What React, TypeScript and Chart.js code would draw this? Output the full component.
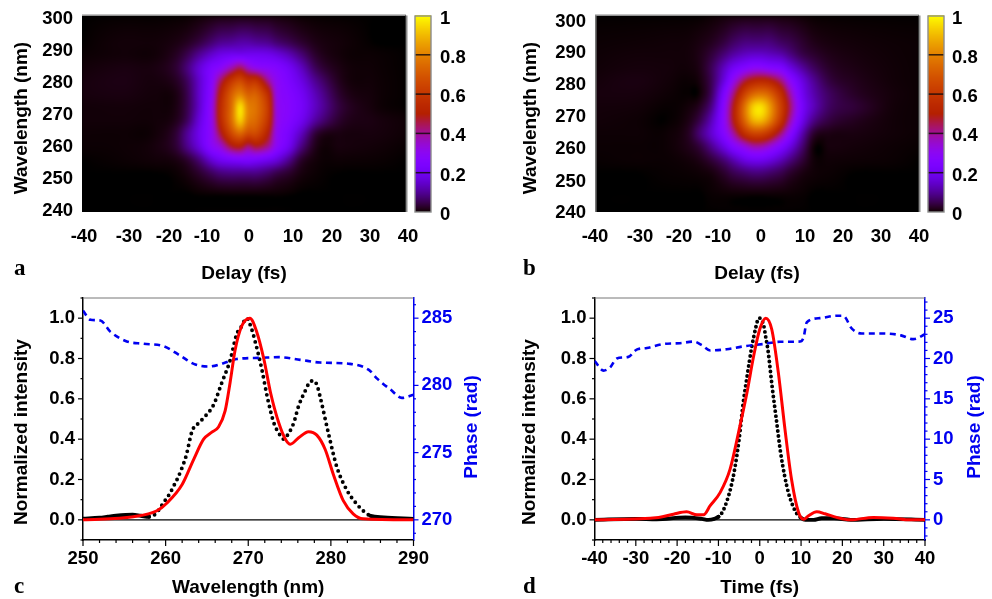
import React, { useEffect, useRef } from "react";
import { Chart, registerables } from "chart.js";

Chart.register(...registerables);

// ---------- heat-map data (panels a, b) ----------
const heatDelayNodes = [-40, -30, -22, -17, -14, -11, -8, -6, -3, -1, 1, 3, 6, 8, 11, 14, 18, 24, 32, 40];
const heatWavelengthNodes = [300, 292, 288, 284, 280, 276, 272, 268, 264, 260, 256, 252, 246, 240];
const measuredTrace = [
  [0, 0, 0, 0, 0, 0.002, 0.004, 0.005, 0.005, 0.005, 0.005, 0.005, 0.005, 0.004, 0.002, 0, 0, 0, 0, 0],
  [0, 0.005, 0.005, 0.01, 0.02, 0.04, 0.07, 0.09, 0.1, 0.11, 0.11, 0.1, 0.09, 0.07, 0.05, 0.03, 0.012, 0.005, 0, 0],
  [0.002, 0.005, 0.005, 0.02, 0.05, 0.1, 0.15, 0.18, 0.2, 0.2, 0.2, 0.2, 0.19, 0.17, 0.13, 0.08, 0.025, 0.005, 0.002, 0],
  [0.005, 0.01, 0.01, 0.03, 0.08, 0.16, 0.24, 0.28, 0.38, 0.44, 0.36, 0.31, 0.28, 0.26, 0.21, 0.14, 0.05, 0.01, 0.003, 0],
  [0.008, 0.012, 0.008, 0.02, 0.06, 0.15, 0.27, 0.42, 0.6, 0.66, 0.58, 0.58, 0.4, 0.3, 0.24, 0.18, 0.09, 0.015, 0.004, 0],
  [0.008, 0.01, 0.006, 0.01, 0.05, 0.15, 0.29, 0.5, 0.72, 0.8, 0.72, 0.72, 0.55, 0.32, 0.26, 0.21, 0.12, 0.025, 0.005, 0],
  [0.005, 0.006, 0.005, 0.01, 0.05, 0.15, 0.31, 0.53, 0.76, 0.96, 0.8, 0.76, 0.6, 0.33, 0.27, 0.22, 0.13, 0.035, 0.006, 0],
  [0.005, 0.005, 0.005, 0.015, 0.06, 0.17, 0.31, 0.52, 0.76, 0.93, 0.78, 0.74, 0.58, 0.33, 0.26, 0.2, 0.1, 0.025, 0.01, 0.003],
  [0.003, 0.003, 0.005, 0.03, 0.1, 0.19, 0.3, 0.45, 0.66, 0.74, 0.66, 0.66, 0.5, 0.31, 0.23, 0.14, 0.03, 0.01, 0.008, 0.003],
  [0.002, 0.003, 0.008, 0.03, 0.09, 0.17, 0.28, 0.33, 0.47, 0.5, 0.42, 0.47, 0.4, 0.29, 0.2, 0.09, 0.012, 0.008, 0.005, 0.001],
  [0, 0.002, 0.005, 0.01, 0.03, 0.08, 0.16, 0.2, 0.23, 0.24, 0.24, 0.23, 0.2, 0.17, 0.1, 0.03, 0.005, 0.003, 0.002, 0],
  [0, 0, 0, 0.002, 0.01, 0.03, 0.06, 0.08, 0.09, 0.09, 0.09, 0.09, 0.07, 0.05, 0.03, 0.01, 0.002, 0, 0, 0],
  [0, 0, 0, 0, 0, 0.002, 0.004, 0.005, 0.006, 0.006, 0.006, 0.006, 0.005, 0.004, 0.002, 0, 0, 0, 0, 0],
  [0, 0, 0, 0, 0, 0, 0, 0, 0, 0, 0, 0, 0, 0, 0, 0, 0, 0, 0, 0],
];
const retrievedTrace = [
  [0, 0, 0, 0, 0, 0.002, 0.004, 0.005, 0.005, 0.005, 0.005, 0.005, 0.005, 0.004, 0.002, 0, 0, 0, 0, 0],
  [0.002, 0.003, 0.004, 0.005, 0.01, 0.02, 0.04, 0.06, 0.08, 0.08, 0.08, 0.08, 0.06, 0.05, 0.03, 0.015, 0.008, 0.005, 0.003, 0.002],
  [0.003, 0.005, 0.005, 0.006, 0.015, 0.04, 0.08, 0.11, 0.14, 0.15, 0.15, 0.14, 0.12, 0.09, 0.05, 0.03, 0.015, 0.008, 0.004, 0.002],
  [0.004, 0.007, 0.006, 0.005, 0.015, 0.06, 0.14, 0.2, 0.26, 0.29, 0.29, 0.27, 0.24, 0.18, 0.11, 0.06, 0.025, 0.012, 0.005, 0.002],
  [0.006, 0.01, 0.005, 0.002, 0.01, 0.06, 0.18, 0.3, 0.46, 0.52, 0.54, 0.52, 0.42, 0.3, 0.18, 0.1, 0.04, 0.018, 0.006, 0.002],
  [0.008, 0.008, 0.003, 0.001, 0.006, 0.07, 0.25, 0.4, 0.64, 0.74, 0.77, 0.73, 0.56, 0.4, 0.21, 0.12, 0.06, 0.025, 0.008, 0.002],
  [0.006, 0.005, 0.001, 0.006, 0.025, 0.1, 0.29, 0.47, 0.77, 0.93, 0.96, 0.86, 0.62, 0.45, 0.23, 0.13, 0.06, 0.035, 0.008, 0.002],
  [0.005, 0.003, 0.0005, 0.012, 0.05, 0.14, 0.3, 0.47, 0.74, 0.88, 0.9, 0.81, 0.58, 0.4, 0.2, 0.09, 0.04, 0.02, 0.006, 0.002],
  [0.003, 0.003, 0.003, 0.02, 0.08, 0.16, 0.27, 0.38, 0.57, 0.64, 0.64, 0.58, 0.42, 0.29, 0.13, 0.03, 0.012, 0.01, 0.005, 0.002],
  [0.002, 0.002, 0.003, 0.015, 0.04, 0.1, 0.18, 0.25, 0.33, 0.38, 0.38, 0.34, 0.25, 0.18, 0.08, 0.005, 0.008, 0.006, 0.003, 0.001],
  [0.001, 0.002, 0.002, 0.006, 0.015, 0.04, 0.08, 0.12, 0.18, 0.2, 0.2, 0.18, 0.13, 0.09, 0.04, 0.005, 0.004, 0.003, 0.002, 0],
  [0, 0, 0.001, 0.002, 0.004, 0.01, 0.03, 0.05, 0.07, 0.08, 0.08, 0.07, 0.05, 0.03, 0.012, 0.004, 0.002, 0, 0, 0],
  [0, 0, 0, 0, 0, 0.002, 0.004, 0.005, 0.006, 0.006, 0.006, 0.006, 0.005, 0.004, 0.002, 0, 0, 0, 0, 0],
  [0, 0, 0, 0, 0, 0, 0, 0, 0, 0, 0, 0, 0, 0, 0, 0, 0, 0, 0, 0],
];

// ---------- panel c ----------
const specMeasuredX = [250, 252, 253, 254, 256, 257, 258, 258.8, 259.5, 260, 260.5, 261, 261.5, 262, 262.5, 263.2, 264, 264.8, 265.8, 266.8, 267.8, 268.6, 269.2, 269.8, 270.3, 270.8, 271.65, 272.3, 273.1, 273.7, 274.3, 274.9, 275.5, 276.1, 276.9, 277.4, 277.9, 278.3, 278.7, 279.7, 280.7, 281.9, 283.3, 284.2, 284.8, 286.4, 290];
const specMeasuredY = [0.005, 0.01, 0.015, 0.02, 0.025, 0.02, 0.015, 0.03, 0.07, 0.1, 0.13, 0.17, 0.21, 0.26, 0.32, 0.44, 0.48, 0.514, 0.57, 0.68, 0.79, 0.92, 0.96, 1.0, 0.96, 0.89, 0.745, 0.61, 0.48, 0.43, 0.4, 0.43, 0.48, 0.565, 0.64, 0.68, 0.69, 0.67, 0.61, 0.43, 0.265, 0.15, 0.07, 0.035, 0.02, 0.012, 0.005];
const specRetrievedX = [250, 256.1, 258.95, 260.2, 262, 263.4, 264.6, 265.6, 266.4, 267.2, 267.8, 268.4, 269.2, 270.2, 271, 271.9, 272.7, 273.7, 274.5, 275.1, 276.1, 277.3, 278.3, 279.3, 280.3, 281.5, 282.7, 283.9, 290];
const specRetrievedY = [0, 0.015, 0.045, 0.085, 0.175, 0.3, 0.4, 0.435, 0.46, 0.54, 0.68, 0.84, 0.96, 1.0, 0.935, 0.795, 0.63, 0.48, 0.4, 0.375, 0.407, 0.437, 0.42, 0.35, 0.225, 0.095, 0.03, 0.005, 0];
const specPhaseX = [250, 250.9, 252.1, 253.3, 255.3, 257.3, 259.8, 261.8, 263.4, 265.2, 267, 268.6, 271.5, 273.7, 276.3, 278.7, 282.3, 284.6, 285.6, 287.2, 288.6, 290];
const specPhaseY = [285.57, 284.88, 284.83, 284.0, 283.27, 283.1, 282.9, 282.2, 281.6, 281.4, 281.65, 281.96, 282.05, 282.1, 281.9, 281.7, 281.6, 281.15, 280.5, 279.7, 279.07, 279.3];

// ---------- panel d ----------
const timeMeasuredX = [-40, -30, -25, -18, -14, -12.5, -11, -10, -9, -8, -7, -6, -5, -4, -3, -2, -1, -0.5, 0, 0.5, 1, 1.5, 2, 3, 4, 5, 6, 7, 8, 9, 10, 11, 13, 15, 18, 22, 30, 40];
const timeMeasuredY = [0, 0.005, 0.003, 0.012, 0.005, 0, 0.005, 0.015, 0.04, 0.09, 0.16, 0.26, 0.4, 0.58, 0.72, 0.85, 0.95, 0.99, 1.0, 0.99, 0.96, 0.9, 0.84, 0.66, 0.5, 0.34, 0.22, 0.13, 0.07, 0.03, 0.01, 0, 0, 0.008, 0.008, 0, 0.005, 0];
const timeRetrievedX = [-40, -24.5, -20.9, -17.7, -15.2, -13.6, -12, -9.6, -7.2, -4.8, -3.1, -1.5, 0, 1.45, 2.9, 4.5, 6.1, 7.7, 9.4, 10.6, 11.8, 13.8, 15.8, 18.6, 21.9, 27.5, 32.3, 36.4, 40];
const timeRetrievedY = [0, 0.012, 0.028, 0.04, 0.025, 0.025, 0.07, 0.135, 0.25, 0.465, 0.63, 0.81, 0.945, 1.0, 0.945, 0.73, 0.45, 0.2, 0.036, 0.003, 0.02, 0.04, 0.03, 0.012, 0, 0.012, 0.008, 0, 0];
const timePhaseX = [-40, -37.8, -36.2, -34.6, -31.8, -29.8, -27.3, -23.3, -19.3, -16, -14, -12, -8, -4, 0.9, 4.9, 9.8, 10.6, 11.4, 14.6, 18.6, 20.2, 22.3, 24.7, 29.9, 34, 37.2, 40];
const timePhaseY = [19.7, 18.5, 18.9, 20, 20.2, 21.1, 21.3, 21.8, 21.9, 22.1, 21.65, 21, 21.15, 21.5, 21.8, 22.07, 22.1, 22.6, 24.5, 25, 25.3, 25.3, 23.7, 23.1, 23.1, 22.9, 22.4, 23];

// ---------- ticks ----------
const delayLabels = ["-40", "-30", "-20", "-10", "0", "10", "20", "30", "40"];
const heatWavelengthLabels = ["300", "290", "280", "270", "260", "250", "240"];
const colorbarTicks = [0, 0.2, 0.4, 0.6, 0.8, 1];
const intensityMajor = [0, 0.2, 0.4, 0.6, 0.8, 1.0];
const intensityMinor = [-0.1, 0.1, 0.3, 0.5, 0.7, 0.9, 1.1];
const wavelengthMajor = [250, 260, 270, 280, 290];
const wavelengthMinor = [252, 254, 256, 258, 262, 264, 266, 268, 272, 274, 276, 278, 282, 284, 286, 288];
const timeMajor = [-40, -30, -20, -10, 0, 10, 20, 30, 40];
const timeMinor = [-38, -36, -34, -32, -28, -26, -24, -22, -18, -16, -14, -12, -8, -6, -4, -2, 2, 4, 6, 8, 12, 14, 16, 18, 22, 24, 26, 28, 32, 34, 36, 38];
const specPhaseMajor = [270, 275, 280, 285];
const specPhaseMinor = [269, 271, 272, 273, 274, 276, 277, 278, 279, 281, 282, 283, 284, 286];
const timePhaseMajor = [0, 5, 10, 15, 20, 25];
const timePhaseMinor = [-2, -1, 1, 2, 3, 4, 6, 7, 8, 9, 11, 12, 13, 14, 16, 17, 18, 19, 21, 22, 23, 24, 26, 27];

const FONT = '"Liberation Sans", Arial, sans-serif';
const tickFont = { family: FONT, size: 18.5, weight: "bold" as const };
const BLUE = "#0000f0";

const pts = (xs: number[], ys: number[]) => xs.map((x, i) => ({ x, y: ys[i] }));

function hermite(xs: number[], ys: number[], x: number) {
  const n = xs.length;
  let i = 0;
  while (i < n - 2 && x > xs[i + 1]) i++;
  const h = xs[i + 1] - xs[i];
  const d = (ys[i + 1] - ys[i]) / h;
  const m0 = i > 0 ? (ys[i + 1] - ys[i - 1]) / (xs[i + 1] - xs[i - 1]) : d;
  const m1 = i < n - 2 ? (ys[i + 2] - ys[i]) / (xs[i + 2] - xs[i]) : d;
  const t = Math.min(1, Math.max(0, (x - xs[i]) / h));
  const t2 = t * t, t3 = t2 * t;
  return (2 * t3 - 3 * t2 + 1) * ys[i] + (t3 - 2 * t2 + t) * h * m0 + (-2 * t3 + 3 * t2) * ys[i + 1] + (t3 - t2) * h * m1;
}

// gnuplot pm3d default palette
function palette(v: number): [number, number, number] {
  const x = Math.min(1, Math.max(0, v));
  const b = Math.max(0, Math.sin(2 * Math.PI * x));
  return [255 * Math.sqrt(x), 255 * x * x * x, 255 * b];
}

const heatPlugin = {
  id: "heat",
  beforeDatasetsDraw(chart: any) {
    const cfg = chart.options.plugins.heat;
    if (!cfg || !cfg.values) return;
    const { left, right, top, bottom } = chart.chartArea;
    const w = Math.round(right - left), h = Math.round(bottom - top);
    const off = document.createElement("canvas");
    off.width = w; off.height = h;
    const octx = off.getContext("2d")!;
    const img = octx.createImageData(w, h);
    const yNodes = [...heatWavelengthNodes].reverse();
    const rows = [...cfg.values].reverse();
    const xScale = chart.scales.x, yScale = chart.scales.y;
    for (let py = 0; py < h; py++) {
      const wl = yScale.getValueForPixel(top + py + 0.5);
      const col = heatDelayNodes.map((_: number, j: number) => hermite(yNodes, rows.map((r: number[]) => r[j]), wl));
      for (let px = 0; px < w; px++) {
        const dl = xScale.getValueForPixel(left + px + 0.5);
        const [r, g, b] = palette(hermite(heatDelayNodes, col, dl));
        const o = (py * w + px) * 4;
        img.data[o] = r; img.data[o + 1] = g; img.data[o + 2] = b; img.data[o + 3] = 255;
      }
    }
    octx.putImageData(img, 0, 0);
    const ctx = chart.ctx;
    ctx.save();
    ctx.beginPath();
    ctx.rect(left, top, right - left, bottom - top);
    ctx.clip();
    ctx.fillStyle = "#000";
    ctx.fillRect(left, top, right - left, bottom - top);
    ctx.filter = "blur(1.4px)";
    ctx.drawImage(off, left, top);
    ctx.filter = "none";
    ctx.restore();
    // grey frame remnants of the plot
    ctx.fillStyle = "#8a8a8a";
    ctx.fillRect(left, top - 1, right - left, 1);
    ctx.fillRect(right - 1, top, 2.5, bottom - top);
    ctx.fillStyle = "#333";
    ctx.fillRect(right - 1, top, 1, bottom - top);
    if (cfg.leftEdge) {
      ctx.fillStyle = "#777";
      ctx.fillRect(left, top, 1.6, bottom - top);
    }
    // colour bar
    const cb = chart.scales.cb;
    const bx = right + cfg.barGap, bw = cfg.barWidth;
    for (let py = Math.floor(cb.top); py < cb.bottom; py++) {
      const [r, g, b] = palette(cb.getValueForPixel(py + 0.5));
      ctx.fillStyle = `rgb(${r | 0},${g | 0},${b | 0})`;
      ctx.fillRect(bx, py, bw, 1);
    }
    ctx.fillStyle = "rgba(20,10,10,0.85)";
    colorbarTicks.slice(1, 5).forEach((v) => ctx.fillRect(bx, cb.getPixelForValue(v) - 0.75, bw, 1.5));
    ctx.strokeStyle = "#8c8c8c";
    ctx.lineWidth = 1.4;
    ctx.strokeRect(bx, cb.top + 0.5, bw, cb.bottom - cb.top - 0.5);
  },
};

const marksPlugin = {
  id: "marks",
  afterDraw(chart: any) {
    const ctx = chart.ctx;
    const cfg = chart.options.plugins.marks || {};
    ctx.save();
    (cfg.ticks || []).forEach((t: any) => {
      const s = chart.scales[t.scale];
      ctx.strokeStyle = t.color;
      ctx.lineWidth = 1.2;
      const draw = (vals: number[], len: number) =>
        vals.forEach((v) => {
          const p = s.getPixelForValue(v);
          ctx.beginPath();
          if (t.side === "bottom") { ctx.moveTo(p, chart.chartArea.bottom); ctx.lineTo(p, chart.chartArea.bottom + len); }
          if (t.side === "left") { ctx.moveTo(chart.chartArea.left, p); ctx.lineTo(chart.chartArea.left - len, p); }
          if (t.side === "right") { ctx.moveTo(chart.chartArea.right, p); ctx.lineTo(chart.chartArea.right + len, p); }
          ctx.stroke();
        });
      draw(t.major, t.majorLen);
      draw(t.minor, t.minorLen);
    });
    if (cfg.topLine) {
      ctx.strokeStyle = "#777";
      ctx.lineWidth = 1;
      ctx.beginPath();
      ctx.moveTo(chart.chartArea.left, chart.chartArea.top);
      ctx.lineTo(chart.chartArea.right, chart.chartArea.top);
      ctx.stroke();
    }
    (cfg.texts || []).forEach((t: any) => {
      ctx.save();
      ctx.translate(t.x, t.y);
      if (t.rotate) ctx.rotate(-Math.PI / 2);
      ctx.font = t.font;
      ctx.fillStyle = t.color || "#000";
      ctx.textAlign = t.align || "center";
      ctx.textBaseline = t.baseline || "middle";
      ctx.fillText(t.text, 0, 0);
      ctx.restore();
    });
    ctx.restore();
  },
};

const titleFont = `bold 19px ${FONT}`;
const letterFont = 'bold 23px "Liberation Serif", serif';

function fixedWidth(w: number) {
  return (s: any) => { s.width = w; s.paddingTop = 0; s.paddingBottom = 0; };
}
function fixedHeight(h: number) {
  return (s: any) => { s.height = h; s.paddingLeft = 0; s.paddingRight = 0; };
}
function setTicks(vals: number[]) {
  return (s: any) => { s.ticks = vals.map((value) => ({ value })); };
}

function heatConfig(p: any) {
  const { box, plot } = p;
  const xVals = p.xLabelPx.map((px: number) => -40 + ((px - plot.left) / (plot.right - plot.left)) * 80);
  const yVals = p.yLabelPx.map((py: number) => 300 - ((py - plot.top) / (plot.bottom - plot.top)) * 60);
  return {
    type: "scatter",
    data: {
      datasets: [{
        label: "Intensity",
        pointRadius: 0,
        showLine: false,
        data: p.values.flatMap((row: number[], i: number) => row.map((v: number, j: number) => ({ x: heatDelayNodes[j], y: heatWavelengthNodes[i], v }))),
      }],
    },
    options: {
      animation: false, responsive: false,
      layout: { padding: { top: plot.top - box.top, left: 0, right: 0, bottom: 0 } },
      plugins: {
        legend: { display: false }, tooltip: { enabled: false },
        heat: { values: p.values, barGap: p.barGap, barWidth: p.barWidth, leftEdge: p.leftEdge },
        marks: {
          texts: [
            { text: "Wavelength (nm)", x: p.yTitleX - box.left, y: p.yTitleY - box.top, rotate: true, font: titleFont },
            { text: p.letter, x: p.letterX - box.left, y: p.letterY - box.top, font: letterFont, align: "left", baseline: "alphabetic" },
          ],
        },
      },
      scales: {
        x: {
          type: "linear", min: -40, max: 40,
          afterFit: fixedHeight(box.top + box.height - plot.bottom),
          afterBuildTicks: setTicks(xVals),
          grid: { display: false, drawTicks: false }, border: { display: false },
          ticks: { font: tickFont, color: "#000", padding: 14, maxRotation: 0, autoSkip: false, callback: (_: any, i: number) => delayLabels[i] },
          title: { display: true, text: "Delay (fs)", color: "#000", font: { family: FONT, size: 19, weight: "bold" }, padding: { top: box.top + box.height - 268 - 11, bottom: 0 } },
        },
        y: {
          type: "linear", position: "left", min: 240, max: 300,
          afterFit: fixedWidth(plot.left - box.left),
          afterBuildTicks: setTicks(yVals),
          grid: { display: false, drawTicks: false }, border: { display: false },
          ticks: { font: tickFont, color: "#000", padding: 9, autoSkip: false, callback: (_: any, i: number) => heatWavelengthLabels[i] },
        },
        cb: {
          type: "linear", position: "right", min: 0, max: 1,
          afterFit: fixedWidth(box.left + box.width - plot.right),
          afterBuildTicks: setTicks(colorbarTicks),
          grid: { display: false, drawTicks: false }, border: { display: false },
          ticks: { font: tickFont, color: "#000", padding: p.barLabelPad, labelOffset: 3, autoSkip: false, callback: (v: number) => String(v) },
        },
      },
    },
  };
}

function lineConfig(p: any) {
  const { box, plot } = p;
  return {
    type: "scatter",
    data: {
      datasets: [
        { label: "Retrieved", data: pts(p.redX, p.redY), showLine: true, pointRadius: 0, borderColor: "#ff0000", borderWidth: 3, cubicInterpolationMode: "monotone", order: 0, xAxisID: "x", yAxisID: "y" },
        { label: "Phase", data: pts(p.phaseX, p.phaseY), showLine: true, pointRadius: 0, borderColor: BLUE, borderWidth: 2.6, borderDash: [6, 4.5], cubicInterpolationMode: "monotone", order: 1, xAxisID: "x", yAxisID: "y1" },
        {
          label: "Measured", data: pts(p.blackX, p.blackY), showLine: true, pointRadius: 0, borderColor: "#000", borderWidth: 3.9,
          borderCapStyle: "round", borderDash: [0, p.dotGap], cubicInterpolationMode: "monotone", order: 2, xAxisID: "x", yAxisID: "y",
          segment: {
            borderDash: (c: any) => (Math.abs(c.p0.parsed.y) < 0.03 && Math.abs(c.p1.parsed.y) < 0.03 ? [] : [0, p.dotGap]),
            borderCapStyle: () => "round",
          },
        },
        { label: "Zero", data: [{ x: p.xMin, y: 0 }, { x: p.xMax, y: 0 }], showLine: true, pointRadius: 0, borderColor: "#000", borderWidth: 1.2, order: 3, xAxisID: "x", yAxisID: "y" },
      ],
    },
    options: {
      animation: false, responsive: false,
      layout: { padding: { top: plot.top - box.top, left: 0, right: 0, bottom: 0 } },
      plugins: {
        legend: { display: false }, tooltip: { enabled: false },
        marks: {
          topLine: true,
          ticks: [
            { scale: "y", side: "left", color: "#000", major: intensityMajor, minor: intensityMinor, majorLen: 5, minorLen: 2.5 },
            { scale: "y1", side: "right", color: BLUE, major: p.phaseMajor, minor: p.phaseMinor, majorLen: 5, minorLen: 2.5 },
            { scale: "x", side: "bottom", color: "#000", major: p.xMajor, minor: p.xMinor, majorLen: 6, minorLen: 3 },
          ],
          texts: [
            { text: "Normalized intensity", x: p.yTitleX - box.left, y: 432 - box.top, rotate: true, font: titleFont },
            { text: "Phase (rad)", x: p.rTitleX - box.left, y: 427 - box.top, rotate: true, font: titleFont, color: BLUE },
            { text: p.letter, x: p.letterX - box.left, y: 593 - box.top, font: letterFont, align: "left", baseline: "alphabetic" },
          ],
        },
      },
      scales: {
        x: {
          type: "linear", min: p.xMin, max: p.xMax,
          afterFit: fixedHeight(box.top + box.height - plot.bottom),
          afterBuildTicks: setTicks(p.xMajor),
          grid: { drawOnChartArea: false, drawTicks: false }, border: { display: true, color: "#000", width: 1.5 },
          ticks: { font: tickFont, color: "#000", padding: 8, maxRotation: 0, autoSkip: false, callback: (v: number) => String(v) },
          title: { display: true, text: p.xTitle, color: "#000", font: { family: FONT, size: 19, weight: "bold" }, padding: { top: 0, bottom: 0 } },
        },
        y: {
          type: "linear", position: "left", min: -0.1, max: 1.1,
          afterFit: fixedWidth(plot.left - box.left),
          afterBuildTicks: setTicks(intensityMajor),
          grid: { drawOnChartArea: false, drawTicks: false }, border: { display: true, color: "#000", width: 1.5 },
          ticks: { font: tickFont, color: "#000", padding: 8, autoSkip: false, callback: (v: number) => v.toFixed(1) },
        },
        y1: {
          type: "linear", position: "right", min: p.phaseMin, max: p.phaseMax,
          afterFit: fixedWidth(box.left + box.width - plot.right),
          afterBuildTicks: setTicks(p.phaseMajor),
          grid: { drawOnChartArea: false, drawTicks: false }, border: { display: true, color: BLUE, width: 1.5 },
          ticks: { font: tickFont, color: BLUE, padding: 8, autoSkip: false, callback: (v: number) => String(v) },
        },
      },
    },
  };
}

const panels: any[] = [
  heatConfig({
    box: { left: 0, top: 0, width: 496, height: 285 },
    plot: { left: 82, right: 406, top: 15.5, bottom: 212 },
    values: measuredTrace, letter: "a", letterX: 14, letterY: 275,
    xLabelPx: [84, 129, 169, 207, 249, 293, 332, 370, 408],
    yLabelPx: [19, 51, 83, 115, 147, 179, 211],
    yTitleX: 22, yTitleY: 118, barGap: 9, barWidth: 16, barLabelPad: 34, leftEdge: false,
  }),
  heatConfig({
    box: { left: 496, top: 0, width: 496, height: 285 },
    plot: { left: 595, right: 919, top: 15.5, bottom: 212 },
    values: retrievedTrace, letter: "b", letterX: 523, letterY: 275,
    xLabelPx: [595, 640, 679, 718, 761, 805, 843, 881, 919],
    yLabelPx: [21.7, 53.3, 85, 117, 149, 182, 213],
    yTitleX: 531, yTitleY: 118, barGap: 9, barWidth: 16, barLabelPad: 33, leftEdge: true,
  }),
  lineConfig({
    box: { left: 0, top: 285, width: 496, height: 314 },
    plot: { left: 83, right: 413.5, top: 298, bottom: 540 },
    xMin: 250, xMax: 290, phaseMin: 268.5, phaseMax: 286.5,
    xMajor: wavelengthMajor, xMinor: wavelengthMinor, phaseMajor: specPhaseMajor, phaseMinor: specPhaseMinor,
    blackX: specMeasuredX, blackY: specMeasuredY, redX: specRetrievedX, redY: specRetrievedY, phaseX: specPhaseX, phaseY: specPhaseY,
    xTitle: "Wavelength (nm)", letter: "c", letterX: 14, yTitleX: 22, rTitleX: 472, dotGap: 6,
  }),
  lineConfig({
    box: { left: 496, top: 285, width: 496, height: 314 },
    plot: { left: 594.5, right: 925, top: 298, bottom: 540 },
    xMin: -40, xMax: 40, phaseMin: -2.5, phaseMax: 27.5,
    xMajor: timeMajor, xMinor: timeMinor, phaseMajor: timePhaseMajor, phaseMinor: timePhaseMinor,
    blackX: timeMeasuredX, blackY: timeMeasuredY, redX: timeRetrievedX, redY: timeRetrievedY, phaseX: timePhaseX, phaseY: timePhaseY,
    xTitle: "Time (fs)", letter: "d", letterX: 523, yTitleX: 530, rTitleX: 975, dotGap: 5,
  }),
];
const boxes = [
  { left: 0, top: 0, width: 496, height: 285 },
  { left: 496, top: 0, width: 496, height: 285 },
  { left: 0, top: 285, width: 496, height: 314 },
  { left: 496, top: 285, width: 496, height: 314 },
];

export default function App() {
  const refs = useRef<(HTMLCanvasElement | null)[]>([]);
  useEffect(() => {
    const charts = panels.map((cfg, i) =>
      new Chart(refs.current[i] as HTMLCanvasElement, { ...cfg, plugins: [heatPlugin, marksPlugin] })
    );
    return () => charts.forEach((c) => c.destroy());
  }, []);
  return (
    <div style={{ position: "absolute", left: 0, top: 0, width: 992, height: 599, background: "#fff", overflow: "hidden" }}>
      {boxes.map((b, i) => (
        <canvas
          key={i}
          ref={(el) => { refs.current[i] = el; }}
          width={b.width}
          height={b.height}
          style={{ position: "absolute", left: b.left, top: b.top, width: b.width, height: b.height, display: "block" }}
        />
      ))}
    </div>
  );
}
